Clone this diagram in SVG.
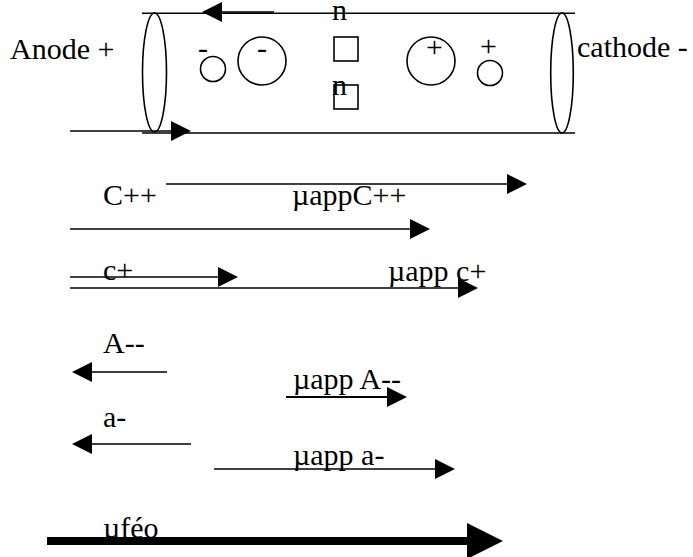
<svg xmlns="http://www.w3.org/2000/svg" width="693" height="557" viewBox="0 0 693 557">
<style>
  text { font-family: "Liberation Serif", "Times New Roman", serif; font-size: 30px; fill: #000; }
  .ln { stroke: #000; stroke-width: 1.4; fill: none; }
  .shape { stroke: #000; stroke-width: 1.6; fill: none; }
  .arr { stroke: #000; stroke-width: 1.4; fill: none; marker-end: url(#head); }
  .arr2 { stroke: #000; stroke-width: 2.2; fill: none; marker-end: url(#head); }
  .thick { stroke: #000; stroke-width: 8; fill: none; marker-end: url(#bighead); }
</style>
<defs>
  <marker id="head" viewBox="0 0 20 20" refX="0" refY="10" markerUnits="userSpaceOnUse" markerWidth="20" markerHeight="20" orient="auto">
    <path d="M0,0 L20,10 L0,20 Z" fill="#000"/>
  </marker>
  <marker id="bighead" viewBox="0 0 36 36" refX="0" refY="18" markerUnits="userSpaceOnUse" markerWidth="36" markerHeight="36" orient="auto">
    <path d="M0,0 L36,18 L0,36 Z" fill="#000"/>
  </marker>
</defs>
<rect x="0" y="0" width="693" height="557" fill="#fff"/>

<g id="tube">
  <line class="ln" x1="142" y1="13.3" x2="575" y2="13.3"/>
  <line class="ln" x1="142" y1="133" x2="575" y2="133"/>
  <ellipse class="shape" cx="154.5" cy="72.5" rx="12" ry="59.5"/>
  <ellipse class="shape" cx="562" cy="73" rx="11.3" ry="60"/>
</g>

<g id="anode-label"><text x="10" y="59">Anode +</text></g>
<g id="cathode-label"><text x="577" y="57">cathode -</text></g>

<g id="anion-small">
  <circle class="shape" cx="213" cy="69" r="12.5"/>
  <text x="198" y="57.5">-</text>
</g>
<g id="anion-big">
  <circle class="shape" cx="262" cy="61" r="24"/>
  <text x="257" y="57.5">-</text>
</g>
<g id="neutral-top">
  <rect class="shape" x="334" y="37" width="24" height="24"/>
  <text x="332" y="20">n</text>
</g>
<g id="neutral-bottom">
  <rect class="shape" x="334" y="85" width="24" height="24"/>
  <text x="332" y="95">n</text>
</g>
<g id="cation-big">
  <circle class="shape" cx="431" cy="61" r="24"/>
  <text x="426" y="57">+</text>
</g>
<g id="cation-small">
  <circle class="shape" cx="490" cy="73" r="12.5"/>
  <text x="480" y="56">+</text>
</g>

<g id="labels">
  <text x="103" y="205">C++</text>
  <text x="292" y="205">µappC++</text>
  <text x="103" y="280">c+</text>
  <text x="388" y="281">µapp c+</text>
  <text x="103" y="353">A--</text>
  <text x="293" y="389">µapp A--</text>
  <text x="103" y="427">a-</text>
  <text x="293" y="465">µapp a-</text>
  <text x="103" y="538">µféo</text>
</g>

<g id="connectors">
  <line class="arr" x1="274" y1="12" x2="222" y2="12"/>
  <line class="arr" x1="70" y1="131" x2="171" y2="131"/>
  <line class="arr" x1="166" y1="184" x2="507" y2="184"/>
  <line class="arr" x1="70" y1="229" x2="410" y2="229"/>
  <line class="arr" x1="70" y1="277" x2="218" y2="277"/>
  <line class="arr" x1="70" y1="288" x2="458" y2="288"/>
  <line class="arr" x1="167" y1="372" x2="92" y2="372"/>
  <line class="arr2" x1="286" y1="397" x2="387" y2="397"/>
  <line class="arr" x1="191" y1="444" x2="92" y2="444"/>
  <line class="arr" x1="214" y1="469" x2="435" y2="469"/>
  <line class="thick" x1="47" y1="541" x2="467" y2="541"/>
</g>
</svg>
